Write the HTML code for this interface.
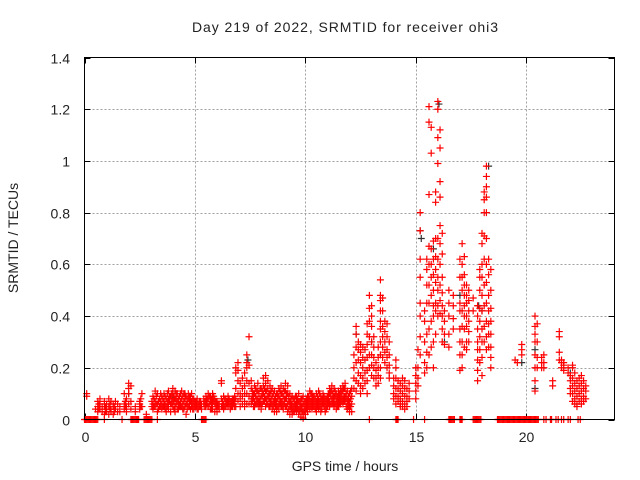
<!DOCTYPE html>
<html><head><meta charset="utf-8">
<style>
html,body{margin:0;padding:0;background:#fff;}
svg{display:block;}
text{font-family:"Liberation Sans",Arial,sans-serif;fill:#222;}
</style></head>
<body>
<svg id="chart" width="640" height="480" viewBox="0 0 640 480" xmlns="http://www.w3.org/2000/svg">
<rect x="0" y="0" width="640" height="480" fill="#fff"/>
<text x="345" y="32" text-anchor="middle" font-size="14" textLength="306">Day 219 of 2022, SRMTID for receiver ohi3</text>
<text x="345" y="471" text-anchor="middle" font-size="14">GPS time / hours</text>
<text transform="translate(18,238) rotate(-90)" text-anchor="middle" font-size="14">SRMTID / TECUs</text>
<g id="grid"></g>
<g id="ticks"></g>
<g id="marks"></g>
<rect x="84.5" y="57.5" width="530" height="362" fill="none" stroke="#000" stroke-width="1"/>
</svg>
<script>
var xTicks = [0, 5, 10, 15, 20];
var yTicks = [0, 0.2, 0.4, 0.6, 0.8, 1.0, 1.2, 1.4];
var yTickLabels = ["0", "0.2", "0.4", "0.6", "0.8", "1", "1.2", "1.4"];
var xMin = 0, xMax = 24, yMin = 0, yMax = 1.4;

// [time, value, value, ...] multiple satellites at one epoch
var baselinePts = [
[0.1,.1,.09],[0.5,.04],[0.6,.07,.05,.03],[0.7,.08,.06,.04],[0.8,.05,.03],[0.9,.07,.05,.02],
[1.0,.06,.04,.03],[1.1,.08,.05,.02],[1.2,.07,.04,.03],[1.3,.06,.05,.02],[1.4,.07,.04],[1.5,.06,.03],
[1.6,.05,.03],[1.8,.1,.06,.04],[1.9,.08,.05,.03],[2.0,.14,.12,.1,.06],[2.1,.13,.07,.04],[2.3,.05,.03],
[2.5,.07,.06,.04],[2.6,.1,.05],[2.8,.02],[3.1,.09,.06,.04],[3.2,.11,.07,.05],[3.3,.1,.06,.03],
[3.4,.08,.05],[3.5,.09,.06,.04],[3.6,.1,.07,.05],[3.7,.08,.05,.03],[3.8,.11,.08,.06,.04],
[3.9,.09,.06,.03],[4.0,.12,.1,.07,.05],[4.1,.11,.08,.05,.03],[4.2,.1,.07,.04],[4.3,.09,.06,.05],
[4.4,.11,.08,.05],[4.5,.1,.07,.04],[4.6,.09,.06,.02],[4.7,.1,.08,.05],[4.8,.09,.07,.04],
[4.9,.08,.06,.04],[5.0,.07,.05],[5.1,.08,.06,.04],[5.2,.07,.05],[5.3,.06,.04],[5.4,.08,.06],
[5.5,.09,.07,.05],[5.6,.1,.08,.05],[5.7,.09,.07,.04],[5.8,.1,.08,.06,.04],[5.9,.08,.06,.03],
[6.0,.07,.05,.03],[6.1,.06,.04],[6.2,.15,.14,.08,.05],[6.3,.09,.06,.04],[6.4,.08,.06,.05],
[6.5,.09,.07,.05],[6.6,.07,.05,.04],[6.7,.08,.06,.05],[6.8,.09,.07,.05],[6.85,.2,.18,.12,.08,.05],
[6.95,.22,.19,.15,.1,.07],[7.05,.14,.1,.08,.05],[7.15,.16,.12,.09,.06],
[7.25,.18,.13,.1,.07,.05],[7.35,.25,.22,.2,.15,.1,.06],[7.45,.32,.21,.14,.09,.06],[7.55,.15,.12,.08,.06],
[7.7,.13,.1,.07,.05],[7.85,.14,.11,.08,.06],[8.0,.12,.09,.06,.04],[8.1,.16,.13,.1,.07],
[8.2,.17,.14,.11,.08,.05],[8.3,.15,.12,.09,.06],[8.4,.13,.1,.07,.05],[8.5,.12,.09,.06,.04],
[8.6,.11,.08,.06,.03],[8.7,.1,.07,.05,.03],[8.8,.12,.09,.06,.04],[8.9,.13,.1,.07,.05],
[9.0,.12,.09,.06,.04],[9.1,.14,.11,.08,.05],[9.2,.13,.1,.06,.03],[9.3,.1,.07,.05,.02],
[9.4,.09,.06,.04,.02],[9.5,.08,.06,.04,.03],[9.6,.09,.07,.05,.03],[9.7,.1,.07,.04,.02],
[9.8,.08,.06,.04,.01],[9.9,.09,.06,.03,.005],[10.0,.07,.05,.03,.02],[10.1,.09,.07,.05,.03],
[10.2,.11,.08,.06,.04],[10.3,.1,.08,.06,.04],[10.4,.09,.07,.05],[10.5,.1,.07,.05,.03],
[10.6,.11,.08,.06,.04],[10.7,.09,.07,.05,.03],[10.8,.1,.08,.06],[10.9,.08,.06,.04,.03],
[11.0,.09,.07,.05],[11.1,.12,.1,.07,.05],[11.2,.13,.11,.08,.06],[11.3,.12,.09,.07,.05],
[11.4,.1,.08,.06,.04],[11.5,.11,.09,.07,.05],[11.6,.12,.1,.08,.06],[11.7,.13,.11,.08,.06],
[11.8,.14,.12,.09,.07],[11.9,.11,.08,.06,.04],[12.0,.1,.07,.05,.03],[12.1,.12,.09,.06,.03]
];
var baselineFill = [
[0.65,.06,.04],[0.95,.05,.03],[1.15,.06,.04],[1.35,.05,.03],[1.85,.07,.05],[2.55,.08,.05],
[3.05,.07,.05],[3.15,.08,.05],[3.25,.09,.06],[3.35,.07,.04],[3.45,.1,.07,.05],[3.55,.08,.05],
[3.65,.09,.06,.04],[3.75,.1,.07,.05],[3.85,.09,.07],[3.95,.1,.08,.06],[4.05,.09,.07,.04],
[4.15,.1,.08,.06],[4.25,.08,.06,.04],[4.35,.1,.07,.05],[4.45,.09,.06,.04],[4.55,.1,.08,.05],
[4.65,.08,.06,.04],[4.75,.09,.07,.05],[4.85,.1,.07,.05],[4.95,.08,.06,.04],[5.05,.07,.05],
[5.15,.06,.04],[5.25,.07,.05],[5.45,.07,.05],[5.55,.08,.06],[5.65,.09,.06],[5.75,.08,.06,.04],
[5.85,.09,.07],[5.95,.07,.05],[6.05,.06,.05],[6.25,.07,.05],[6.35,.08,.05],[6.45,.07,.06],
[6.55,.08,.06],[6.65,.07,.05],[6.75,.08,.06],[7.6,.11,.09,.07],[7.65,.1,.08,.05],[7.75,.12,.09,.06],
[7.8,.11,.08,.06],[7.9,.1,.07,.05],[7.95,.12,.08,.06],[8.05,.11,.09,.06],[8.15,.12,.09,.07],
[8.25,.11,.08,.06],[8.35,.1,.08,.05],[8.45,.11,.08,.06],[8.55,.1,.07,.05],[8.65,.09,.07,.05],
[8.75,.1,.08,.05],[8.85,.11,.08,.06],[8.95,.1,.07,.05],[9.05,.11,.08,.06],[9.15,.1,.08,.05],
[9.25,.09,.07,.04],[9.35,.08,.06,.04],[9.45,.08,.05,.03],[9.55,.09,.06,.04],[9.65,.08,.06,.04],
[9.75,.07,.05,.03],[9.85,.08,.05,.03],[9.95,.07,.05,.03],[10.05,.08,.06,.04],[10.15,.09,.07,.05],
[10.25,.1,.07,.05],[10.35,.09,.07,.05],[10.45,.08,.06,.04],[10.55,.09,.07,.05],[10.65,.1,.07,.05],
[10.75,.08,.06,.04],[10.85,.09,.07,.05],[10.95,.08,.06,.04],[11.05,.1,.08,.06],[11.15,.11,.09,.06],
[11.25,.1,.08,.06],[11.35,.11,.09,.06],[11.45,.09,.07,.05],[11.55,.1,.08,.06],[11.65,.11,.09,.07],
[11.75,.12,.09,.07],[11.85,.1,.08,.05],[11.95,.09,.07,.05],[12.05,.11,.08,.05]
];
var stormPts = [
[12.2,.25,.2,.16,.12],[12.3,.36,.33,.28,.22,.15,.11],[12.4,.3,.27,.23,.18,.14],
[12.5,.29,.26,.22,.17,.13,.1],[12.6,.28,.24,.2,.16,.12],[12.7,.27,.23,.18,.14],
[12.8,.37,.33,.29,.24,.19,.15,.1],[12.9,.48,.43,.38,.32,.25,.2],[13.0,.44,.4,.36,.3,.25,.21,.17],
[13.1,.32,.28,.24,.2,.16],[13.2,.22,.19,.16,.13],[13.3,.28,.24,.2,.17,.14],
[13.4,.54,.48,.46,.42,.38,.35,.3,.25,.2,.16],[13.5,.47,.42,.36,.32,.28,.24],[13.6,.38,.34,.3,.26,.22],
[13.7,.37,.32,.27,.24,.2],[13.8,.3,.25,.21,.18,.16],[14.0,.16,.13,.1,.08],[14.1,.23,.2,.16,.12,.09,.06],
[14.2,.15,.12,.09,.07],[14.3,.14,.11,.08,.06,.05],[14.4,.16,.13,.1,.07,.05],[14.5,.15,.12,.09,.06,.04],
[14.6,.12,.09,.07,.05],[14.7,.14,.11,.08],[15.0,.2,.17,.14,.11,.08],[15.1,.27,.2,.16,.13],
[15.2,.8,.73,.62,.55,.45,.4,.32,.25],[15.4,.42,.38,.3,.22,.18],[15.5,.62,.58,.52,.45,.33,.26,.2],
[15.6,1.21,1.15,.87,.67,.6,.52,.45,.35,.25],[15.7,1.13,1.03,.66,.6,.55,.48,.38,.28],
[15.8,.69,.62,.56,.5,.44,.4,.3,.2],[15.9,.88,.84,.7,.63,.58,.53,.45,.42,.33],
[16.0,1.23,1.2,1.09,.99,.7,.62,.55,.5,.44,.4],[16.1,1.12,1.05,.92,.86,.75,.68,.6,.52,.46,.41],
[16.2,.72,.64,.55,.49,.44,.4,.35,.3],[16.3,.42,.38,.33,.29],[16.5,.5,.45,.4,.33,.28],[16.7,.48,.44,.39,.35],
[17.0,.62,.55,.45,.42,.35,.3,.25,.19],[17.1,.68,.6,.55,.5,.42,.36,.3,.25,.2],
[17.2,.63,.56,.52,.48,.44,.4,.35,.28],[17.3,.52,.48,.45,.4,.36,.3,.27],[17.4,.5,.46,.42,.38,.34,.3],
[17.6,.47,.42],[17.8,.44,.4,.35,.3,.27,.23,.19,.15],[17.9,.58,.55,.5,.43,.38,.32,.27,.22],
[18.0,.72,.68,.6,.55,.48,.42,.35,.3,.24,.17],[18.1,.88,.85,.8,.71,.62,.52,.44,.36,.3],
[18.2,.98,.94,.9,.86,.8,.7,.6,.53,.45,.38,.32,.27],[18.3,.62,.56,.48,.42,.37,.33,.28],
[18.4,.58,.5,.43,.38,.33,.28,.24,.2]
];
var latePts = [
[19.5,.23],[19.6,.22],[19.8,.29,.27,.25],[20.4,.4,.36,.33,.3,.25,.2,.15,.11],[20.5,.37,.3,.24,.2],
[20.7,.24,.22,.2],[20.8,.25,.22,.2],[21.2,.15,.13],[21.5,.34,.32,.26,.23],[21.6,.23,.22,.2],
[21.7,.22,.21,.19],[21.9,.2,.18],[22.0,.17,.15,.12,.1],[22.1,.21,.2,.16,.13,.1,.07],
[22.2,.18,.14,.11,.08,.06],[22.3,.15,.12,.09,.06,.05],[22.4,.16,.13,.1,.07],[22.5,.17,.14,.11,.08,.06],
[22.6,.15,.12,.09,.07],[22.7,.13,.11,.08]
];
var zeroTimes = [0,0.05,0.1,0.15,0.2,0.25,0.3,0.35,0.4,0.45,0.5,0.55,0.6,0.9,1.7,2.1,2.15,2.2,2.25,2.3,2.35,2.4,2.45,
2.7,2.75,2.8,2.85,2.9,2.95,3.0,3.05,3.3,5.3,5.35,5.4,5.45,5.5,12.9,14.1,14.15,14.2,14.9,15.4,
16.5,16.55,16.6,16.65,16.7,16.75,17.0,17.05,17.1,17.6,17.65,17.7,17.75,17.8,17.85,17.9,17.95,
18.7,18.75,18.8,18.85,18.9,18.95,19.0,19.05,19.1,19.15,19.2,19.25,19.3,19.35,19.4,19.45,19.5,19.55,19.6,19.65,
19.7,19.75,19.8,19.85,19.9,19.95,20.0,20.05,20.1,20.15,20.2,20.25,20.3,20.35,20.4,20.45,20.5,20.55,
20.8,20.9,21.1,21.15,21.35,21.45,21.6,21.7,21.9,22.0,22.35,22.45];
var blackPts = [[16.05,1.22],[18.3,0.98],[15.2,0.73],[15.25,0.7],[15.8,0.66],[17.85,0.44],
[18.0,0.42],[13.0,0.3],[12.3,0.33],[7.4,0.23],[20.4,0.12],[20.4,0.27],[19.8,0.22],[16.3,0.3],
[17.0,0.48],[4.0,0.09],[2.0,0.1],[22.0,0.18]];

var L = 84.5, R = 614.5, T = 57.5, B = 419.5;
function xs(v){ return L + (v - xMin) / (xMax - xMin) * (R - L); }
function ys(v){ return B - (v - yMin) / (yMax - yMin) * (B - T); }
var NS = "http://www.w3.org/2000/svg";
var grid = document.getElementById('grid'), ticks = document.getElementById('ticks'), marks = document.getElementById('marks');
function mk(tag, attrs, parent){ var e = document.createElementNS(NS, tag); for (var k in attrs) e.setAttribute(k, attrs[k]); parent.appendChild(e); return e; }

xTicks.forEach(function(t){
  var x = Math.round(xs(t)) + 0.5;
  if (t > xMin) {
    var g = mk('line', {x1:x, y1:T, x2:x, y2:B, stroke:'#a0a0a0', 'stroke-dasharray':'2,2', 'stroke-width':1}, grid);
    
    
  }
  var a = mk('line', {x1:x, y1:B, x2:x, y2:B-6, stroke:'#000'}, ticks);
  
  
  var b = mk('line', {x1:x, y1:T, x2:x, y2:T+6, stroke:'#000'}, ticks);
  
  
  var lb = mk('text', {x:x, y:442, 'text-anchor':'middle', 'font-size':14}, ticks);
  lb.textContent = String(t);
  
  
});
yTicks.forEach(function(t, i){
  var y = Math.round(ys(t)) + 0.5;
  if (t > yMin && t < yMax) {
    var g = mk('line', {x1:L, y1:y, x2:R, y2:y, stroke:'#a0a0a0', 'stroke-dasharray':'2,2', 'stroke-width':1}, grid);
    
    
  }
  var a = mk('line', {x1:L, y1:y, x2:L+6, y2:y, stroke:'#000'}, ticks);
  
  
  var b = mk('line', {x1:R, y1:y, x2:R-6, y2:y, stroke:'#000'}, ticks);
  
  
  var lb = mk('text', {x:70, y:y+5, 'text-anchor':'end', 'font-size':14}, ticks);
  lb.textContent = yTickLabels[i];
  
  
});

function plus(t, v, color, name){
  var x = xs(t), y = ys(v);
  var p = mk('path', {d:'M'+(x-3.5)+' '+y+'H'+(x+3.5)+'M'+x+' '+(y-3.5)+'V'+(y+3.5), stroke:color, 'stroke-width':1.2, fill:'none'}, marks);
  
  
}
blackPts.forEach(function(p){ plus(p[0], p[1], '#333333', 'srmtid-point-alt'); });
[baselinePts, baselineFill, stormPts, latePts].forEach(function(arr){
  arr.forEach(function(row){
    for (var j = 1; j < row.length; j++) plus(row[0], row[j], '#ff0000', 'srmtid-point');
  });
});
zeroTimes.forEach(function(t){ plus(t, 0, '#ff0000', 'zero-point'); });
</script>
</body></html>
